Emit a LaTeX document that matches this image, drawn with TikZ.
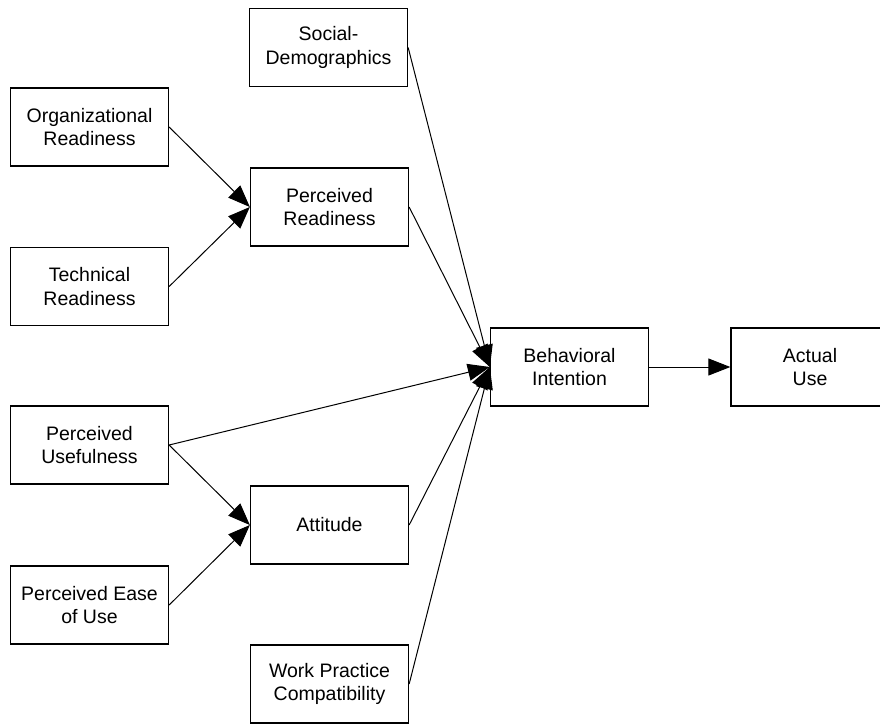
\documentclass[tikz,border=0pt]{standalone}
\usepackage{fontspec}
\setmainfont{Liberation Sans}
\usetikzlibrary{arrows.meta}

\begin{document}
\begin{tikzpicture}[x=1pt, y=-1pt, >={Triangle[length=22pt,width=17pt]},
  box/.style={draw, line width=1.3pt, minimum width=158pt, minimum height=78pt, align=center, font=\fontsize{19.5}{23.5}\selectfont},
  link/.style={->, line width=1pt}]
\useasboundingbox (0,0) rectangle (880,724);
\clip (0,0) rectangle (880,724);
\node[box] (SD) at (328.5,47.5) {Social-\\Demographics};
\node[box] (OR) at (89.5,127) {Organizational\\Readiness};
\node[box] (PR) at (329.5,207) {Perceived\\Readiness};
\node[box] (TR) at (89.5,286.5) {Technical\\Readiness};
\node[box] (BI) at (569.5,367) {Behavioral\\Intention};
\node[box] (AU) at (810,367) {Actual\\Use};
\node[box] (PU) at (89.5,445) {Perceived\\Usefulness};
\node[box] (AT) at (329.5,525) {Attitude};
\node[box] (PE) at (89.5,605) {Perceived Ease\\of Use};
\node[box] (WP) at (329.5,684) {Work Practice\\Compatibility};
% readiness side
\draw[link] (OR.east) -- (PR.west);
\draw[link] (TR.east) -- (PR.west);
\draw[link] (PU.east) -- (AT.west);
\draw[link] (PE.east) -- (AT.west);
% into intention
\draw[link] (SD.east) -- (BI.west);
\draw[link] (PR.east) -- (BI.west);
\draw[link] (PU.east) -- (BI.west);
\draw[link] (AT.east) -- (BI.west);
\draw[link] (WP.east) -- (BI.west);
\draw[link] (BI.east) -- (AU.west);
\end{tikzpicture}
\end{document}
